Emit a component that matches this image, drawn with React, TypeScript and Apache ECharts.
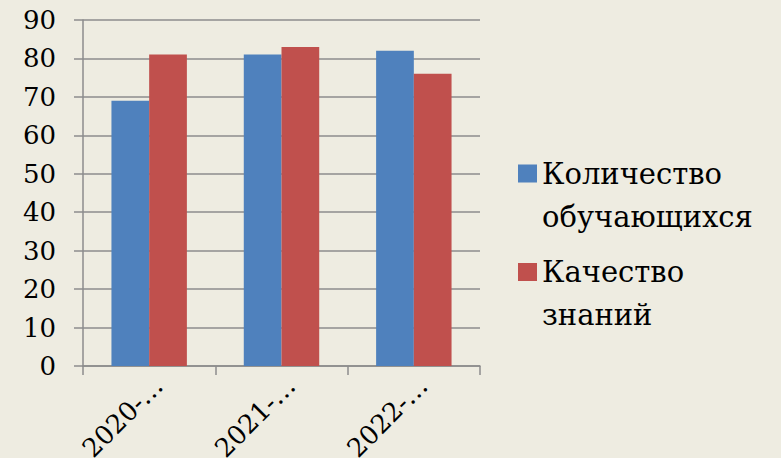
import React, { useEffect, useRef } from "react";
import * as echarts from "echarts";

const categories = ["2020-…", "2021-…", "2022-…"];
const seriesNames = ["Количество обучающихся", "Качество знаний"];
const studentsCount = [69, 81, 82];
const knowledgeQuality = [81, 83, 76];
const yTicks = { min: 0, max: 90, interval: 10 };

const FONT = "DejaVu Serif";
const GRID_COLOR = "#8c8c8c";

export default function App() {
  const ref = useRef<HTMLDivElement>(null);
  useEffect(() => {
    if (!ref.current) return;
    const chart = echarts.init(ref.current, undefined, { renderer: "svg" });
    chart.setOption({
      animation: false,
      backgroundColor: "#EEECE1",
      grid: {
        left: 83,
        right: 301,
        top: 20,
        bottom: 92,
        containLabel: false,
        outerBoundsMode: "none",
      },
      legend: {
        orient: "vertical",
        left: 518,
        top: 109,
        padding: 0,
        itemWidth: 19,
        itemHeight: 18,
        itemGap: -30.5,
        icon: "rect",
        selectedMode: false,
        formatter: (name: string) => "\n" + name.replace(" ", "\n"),
        textStyle: {
          fontFamily: FONT,
          fontSize: 29,
          color: "#000",
          lineHeight: 43,
        },
        data: seriesNames,
      },
      xAxis: {
        type: "category",
        data: categories,
        axisLine: { lineStyle: { color: GRID_COLOR, width: 1.5 } },
        axisTick: { show: true, length: 9, lineStyle: { color: GRID_COLOR, width: 1.5 } },
        axisLabel: {
          rotate: 45,
          margin: 6,
          fontFamily: FONT,
          fontSize: 26,
          color: "#000",
          verticalAlign: "top",
          align: "right",
          interval: 0,
        },
      },
      yAxis: {
        type: "value",
        min: yTicks.min,
        max: yTicks.max,
        interval: yTicks.interval,
        axisLine: { show: true, lineStyle: { color: GRID_COLOR, width: 1.5 } },
        axisTick: { show: true, length: 9, lineStyle: { color: GRID_COLOR, width: 1.5 } },
        splitLine: { show: true, lineStyle: { color: GRID_COLOR, width: 1.5 } },
        axisLabel: {
          margin: 27,
          fontFamily: FONT,
          fontSize: 26,
          color: "#000",
        },
      },
      series: [
        {
          name: seriesNames[0],
          type: "bar",
          data: studentsCount,
          itemStyle: { color: "#4F81BD" },
          barGap: "0%",
          barCategoryGap: "43%",
        },
        {
          name: seriesNames[1],
          type: "bar",
          data: knowledgeQuality,
          itemStyle: { color: "#C0504D" },
          barGap: "0%",
          barCategoryGap: "43%",
        },
      ],
    });
    return () => chart.dispose();
  }, []);
  return (
    <div
      ref={ref}
      style={{ position: "fixed", left: 0, top: 0, width: 781, height: 458 }}
    />
  );
}
